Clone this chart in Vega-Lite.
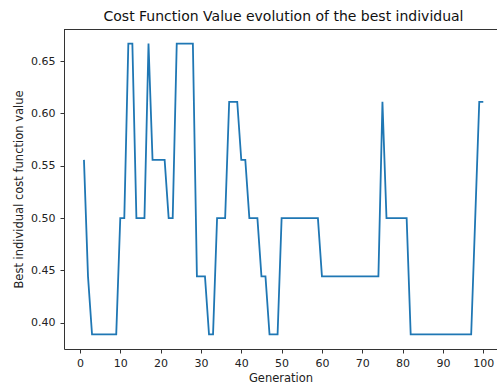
{
  "$schema": "https://vega.github.io/schema/vega-lite/v6.json",
  "autosize": "none",
  "width": 433,
  "height": 320,
  "padding": {"left": 64, "top": 29, "right": 0, "bottom": 38},
  "background": "white",
  "title": {
    "text": "Cost Function Value evolution of the best individual",
    "font": "DejaVu Sans",
    "fontSize": 14,
    "fontWeight": "normal",
    "color": "#111111",
    "anchor": "middle",
    "dx": 3,
    "offset": 5
  },
  "config": {
    "view": {"stroke": null},
    "axis": {
      "labelFont": "DejaVu Sans",
      "titleFont": "DejaVu Sans",
      "labelFontSize": 11,
      "titleFontSize": 11.5,
      "titleFontWeight": "normal",
      "labelColor": "#222222",
      "titleColor": "#222222",
      "domainColor": "#333333",
      "domainWidth": 1,
      "tickColor": "#333333",
      "tickWidth": 1,
      "tickSize": 4,
      "labelPadding": 4,
      "grid": false
    }
  },
  "data": {
    "values": [
      {"generation": 1, "cost": 0.5556},
      {"generation": 2, "cost": 0.4444},
      {"generation": 3, "cost": 0.3889},
      {"generation": 4, "cost": 0.3889},
      {"generation": 5, "cost": 0.3889},
      {"generation": 6, "cost": 0.3889},
      {"generation": 7, "cost": 0.3889},
      {"generation": 8, "cost": 0.3889},
      {"generation": 9, "cost": 0.3889},
      {"generation": 10, "cost": 0.5},
      {"generation": 11, "cost": 0.5},
      {"generation": 12, "cost": 0.6667},
      {"generation": 13, "cost": 0.6667},
      {"generation": 14, "cost": 0.5},
      {"generation": 15, "cost": 0.5},
      {"generation": 16, "cost": 0.5},
      {"generation": 17, "cost": 0.6667},
      {"generation": 18, "cost": 0.5556},
      {"generation": 19, "cost": 0.5556},
      {"generation": 20, "cost": 0.5556},
      {"generation": 21, "cost": 0.5556},
      {"generation": 22, "cost": 0.5},
      {"generation": 23, "cost": 0.5},
      {"generation": 24, "cost": 0.6667},
      {"generation": 25, "cost": 0.6667},
      {"generation": 26, "cost": 0.6667},
      {"generation": 27, "cost": 0.6667},
      {"generation": 28, "cost": 0.6667},
      {"generation": 29, "cost": 0.4444},
      {"generation": 30, "cost": 0.4444},
      {"generation": 31, "cost": 0.4444},
      {"generation": 32, "cost": 0.3889},
      {"generation": 33, "cost": 0.3889},
      {"generation": 34, "cost": 0.5},
      {"generation": 35, "cost": 0.5},
      {"generation": 36, "cost": 0.5},
      {"generation": 37, "cost": 0.6111},
      {"generation": 38, "cost": 0.6111},
      {"generation": 39, "cost": 0.6111},
      {"generation": 40, "cost": 0.5556},
      {"generation": 41, "cost": 0.5556},
      {"generation": 42, "cost": 0.5},
      {"generation": 43, "cost": 0.5},
      {"generation": 44, "cost": 0.5},
      {"generation": 45, "cost": 0.4444},
      {"generation": 46, "cost": 0.4444},
      {"generation": 47, "cost": 0.3889},
      {"generation": 48, "cost": 0.3889},
      {"generation": 49, "cost": 0.3889},
      {"generation": 50, "cost": 0.5},
      {"generation": 51, "cost": 0.5},
      {"generation": 52, "cost": 0.5},
      {"generation": 53, "cost": 0.5},
      {"generation": 54, "cost": 0.5},
      {"generation": 55, "cost": 0.5},
      {"generation": 56, "cost": 0.5},
      {"generation": 57, "cost": 0.5},
      {"generation": 58, "cost": 0.5},
      {"generation": 59, "cost": 0.5},
      {"generation": 60, "cost": 0.4444},
      {"generation": 61, "cost": 0.4444},
      {"generation": 62, "cost": 0.4444},
      {"generation": 63, "cost": 0.4444},
      {"generation": 64, "cost": 0.4444},
      {"generation": 65, "cost": 0.4444},
      {"generation": 66, "cost": 0.4444},
      {"generation": 67, "cost": 0.4444},
      {"generation": 68, "cost": 0.4444},
      {"generation": 69, "cost": 0.4444},
      {"generation": 70, "cost": 0.4444},
      {"generation": 71, "cost": 0.4444},
      {"generation": 72, "cost": 0.4444},
      {"generation": 73, "cost": 0.4444},
      {"generation": 74, "cost": 0.4444},
      {"generation": 75, "cost": 0.6111},
      {"generation": 76, "cost": 0.5},
      {"generation": 77, "cost": 0.5},
      {"generation": 78, "cost": 0.5},
      {"generation": 79, "cost": 0.5},
      {"generation": 80, "cost": 0.5},
      {"generation": 81, "cost": 0.5},
      {"generation": 82, "cost": 0.3889},
      {"generation": 83, "cost": 0.3889},
      {"generation": 84, "cost": 0.3889},
      {"generation": 85, "cost": 0.3889},
      {"generation": 86, "cost": 0.3889},
      {"generation": 87, "cost": 0.3889},
      {"generation": 88, "cost": 0.3889},
      {"generation": 89, "cost": 0.3889},
      {"generation": 90, "cost": 0.3889},
      {"generation": 91, "cost": 0.3889},
      {"generation": 92, "cost": 0.3889},
      {"generation": 93, "cost": 0.3889},
      {"generation": 94, "cost": 0.3889},
      {"generation": 95, "cost": 0.3889},
      {"generation": 96, "cost": 0.3889},
      {"generation": 97, "cost": 0.3889},
      {"generation": 98, "cost": 0.5},
      {"generation": 99, "cost": 0.6111},
      {"generation": 100, "cost": 0.6111}
    ]
  },
  "layer": [
    {
      "mark": {"type": "line", "color": "#1f77b4", "strokeWidth": 1.8},
      "encoding": {
        "x": {
          "field": "generation",
          "type": "quantitative",
          "scale": {"domain": [-3.95, 103.4], "nice": false, "zero": false},
          "axis": {
            "title": "Generation",
            "values": [0, 10, 20, 30, 40, 50, 60, 70, 80, 90, 100],
            "titlePadding": 4
          }
        },
        "y": {
          "field": "cost",
          "type": "quantitative",
          "scale": {"domain": [0.375, 0.6806], "nice": false, "zero": false},
          "axis": {
            "title": "Best individual cost function value",
            "values": [0.4, 0.45, 0.5, 0.55, 0.6, 0.65],
            "format": ".2f",
            "labelPadding": 5,
            "titlePadding": 6
          }
        }
      }
    },
    {
      "mark": {"type": "rule", "color": "#333333", "strokeWidth": 1},
      "encoding": {
        "y": {"datum": 0.68012}
      }
    }
  ]
}
